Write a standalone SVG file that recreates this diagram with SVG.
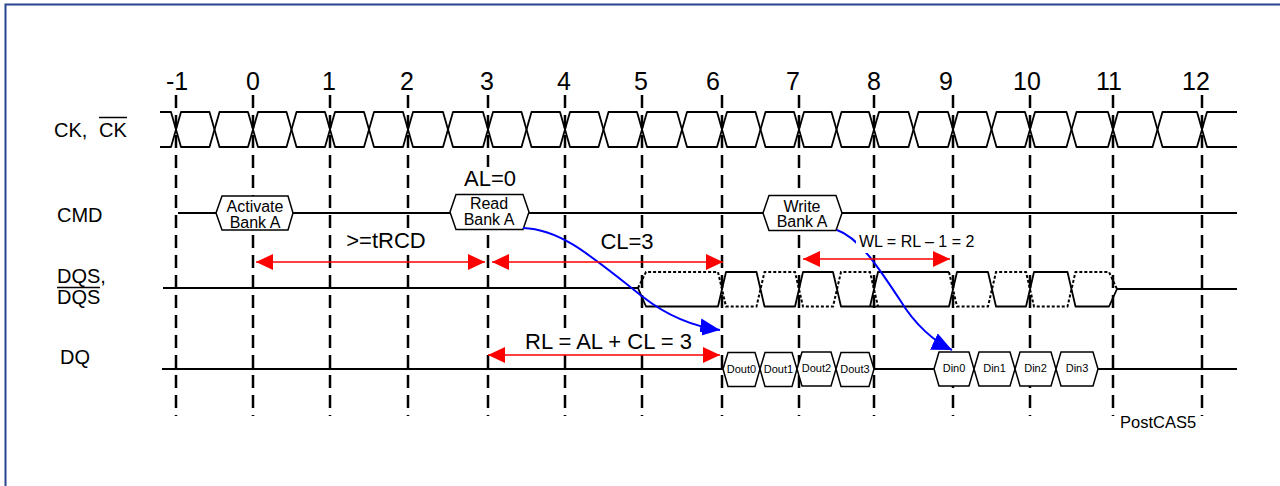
<svg xmlns="http://www.w3.org/2000/svg" width="1280" height="486" viewBox="0 0 1280 486">
<style>
text{font-family:"Liberation Sans",Arial,sans-serif;fill:#000}
.tick{font-size:25px;text-anchor:middle}
.lbl{font-size:20px}
.big{font-size:22px}
.box{font-size:16px;text-anchor:middle}
.dat{font-size:11px;text-anchor:middle}
.grid{stroke:#000;stroke-width:2.5;stroke-dasharray:13 7;fill:none}
.wave{stroke:#000;stroke-width:1.8;fill:none;stroke-linejoin:round}
.dot{stroke:#000;stroke-width:2;fill:none;stroke-dasharray:3 2}
.hex{stroke:#000;stroke-width:1.5;fill:#fff}
.bg{fill:#fff}
.red{stroke:#f00;stroke-width:1.5;fill:none;marker-start:url(#ra);marker-end:url(#ra)}
.blue{stroke:#00f;stroke-width:2;fill:none;marker-end:url(#ba)}
</style>
<defs>
<marker id="ra" markerUnits="userSpaceOnUse" markerWidth="17" markerHeight="16" refX="17" refY="8" orient="auto-start-reverse"><path d="M0,0 L17,8 L0,16 z" fill="#f00"/></marker>
<marker id="ba" markerUnits="userSpaceOnUse" markerWidth="20" markerHeight="18" refX="20" refY="9" orient="auto"><path d="M0,0 L20,9 L0,18 z" fill="#00f"/></marker>
</defs>
<rect x="0" y="0" width="1280" height="486" fill="#fff"/>
<rect x="5.5" y="4.5" width="1290" height="500" fill="none" stroke="#27468f" stroke-width="2"/>
<g id="ticks">
<text class="tick" x="177" y="90">-1</text>
<text class="tick" x="253" y="90">0</text>
<text class="tick" x="329" y="90">1</text>
<text class="tick" x="407" y="90">2</text>
<text class="tick" x="487" y="90">3</text>
<text class="tick" x="564" y="90">4</text>
<text class="tick" x="641" y="90">5</text>
<text class="tick" x="713" y="90">6</text>
<text class="tick" x="793" y="90">7</text>
<text class="tick" x="874" y="90">8</text>
<text class="tick" x="946" y="90">9</text>
<text class="tick" x="1027" y="90">10</text>
<text class="tick" x="1109" y="90">11</text>
<text class="tick" x="1196" y="90">12</text>
</g>
<g id="gridlines">
<path class="grid" d="M176,95V416M253,95V416M330,95V416M408,95V416M488,95V416M565,95V416M642,95V416M722,95V416M799,95V416M874,95V416M953,95V416M1030,95V416M1113,95V416M1202,95V416"/>
</g>
<g id="labels">
<text class="lbl" x="54" y="137">CK,</text>
<text class="lbl" x="99" y="137">CK</text>
<line x1="99" y1="117.5" x2="127" y2="117.5" stroke="#000" stroke-width="1.5"/>
<text class="lbl" x="57" y="222">CMD</text>
<text class="lbl" x="57" y="283">DQS,</text>
<text class="lbl" x="57" y="304">DQS</text>
<line x1="57" y1="287.5" x2="100" y2="287.5" stroke="#000" stroke-width="1.5"/>
<text class="lbl" x="60" y="364">DQ</text>
</g>
<g id="clock">
<path class="wave" d="M160,112 L171,112 181,147 209.5,147 219.5,112 248,112 258,147 286.5,147 296.5,112 325,112 335,147 364,147 374,112 403,112 413,147 443,147 453,112 483,112 493,147 521.5,147 531.5,112 560,112 570,147 598.5,147 608.5,112 637,112 647,147 677,147 687,112 717,112 727,147 755.5,147 765.5,112 794,112 804,147 831.5,147 841.5,112 869,112 879,147 908.5,147 918.5,112 948,112 958,147 986.5,147 996.5,112 1025,112 1035,147 1066.5,147 1076.5,112 1108,112 1118,147 1152.5,147 1162.5,112 1197,112 1207,147 1237,147"/>
<path class="wave" d="M160,147 L171,147 181,112 209.5,112 219.5,147 248,147 258,112 286.5,112 296.5,147 325,147 335,112 364,112 374,147 403,147 413,112 443,112 453,147 483,147 493,112 521.5,112 531.5,147 560,147 570,112 598.5,112 608.5,147 637,147 647,112 677,112 687,147 717,147 727,112 755.5,112 765.5,147 794,147 804,112 831.5,112 841.5,147 869,147 879,112 908.5,112 918.5,147 948,147 958,112 986.5,112 996.5,147 1025,147 1035,112 1066.5,112 1076.5,147 1108,147 1118,112 1152.5,112 1162.5,147 1197,147 1207,112 1237,112"/>
</g>
<g id="cmd">
<path class="wave" d="M178,213 H1237"/>
<g id="activate"><polygon class="hex" points="216,213 222,196 288,196 293,213 288,230 222,230"/><text class="box" x="255" y="212">Activate</text><text class="box" x="255" y="228">Bank A</text></g>
<g id="read"><polygon class="hex" points="450,212 456,194.5 523,194.5 529,212 523,229.5 456,229.5"/><text class="box" x="489" y="209">Read</text><text class="box" x="489" y="225">Bank A</text></g>
<g id="write"><polygon class="hex" points="763,213 769,195.5 836,195.5 842,213 836,230.5 769,230.5"/><text class="box" x="802" y="212">Write</text><text class="box" x="802" y="227">Bank A</text></g>
</g>
<g id="dqs">
<path class="wave" d="M163,288 L638,288 L646,306.5 L718,306.5 L726,272 L756.5,272 L764.5,306.5 L795,306.5 L803,272 L833,272 L841,306.5 L949,306.5 L957,272 L988,272 L996,306.5 L1026,306.5 L1034,272 L1067.5,272 L1075.5,306.5 L1109,306.5 L1117,289 L1237,289"/>
<path class="wave" d="M870,306.5 L878,272 L949,272"/>
<path class="dot" d="M638,288 L646,272 L718,272 L726,306.5 L756.5,306.5 L764.5,272 L795,272 L803,306.5 L833,306.5 L841,272 L870,272 L878,306.5 M949,272 L957,306.5 L988,306.5 L996,272 L1026,272 L1034,306.5 L1067.5,306.5 L1075.5,272 L1109,272 L1117,289"/>
</g>
<g id="dq">
<path class="wave" d="M162,369 H723 M874,369 H934 M1098,369 H1237"/>
<g id="dout0"><polygon class="hex" points="723,369 728,352.5 755,352.5 760,369 755,386.5 728,386.5"/><text class="dat" x="741.5" y="373">Dout0</text></g>
<g id="dout1"><polygon class="hex" points="760,369 765,352.5 792,352.5 797,369 792,386.5 765,386.5"/><text class="dat" x="778.5" y="373">Dout1</text></g>
<g id="dout2"><polygon class="hex" points="797,369 802,352 831,352 836,369 831,386 802,386"/><text class="dat" x="816.5" y="372">Dout2</text></g>
<g id="dout3"><polygon class="hex" points="836,369 841,352.5 869,352.5 874,369 869,386.5 841,386.5"/><text class="dat" x="855" y="373">Dout3</text></g>
<g id="din0"><polygon class="hex" points="934,369 939,352 969,352 974,369 969,386 939,386"/><text class="dat" x="954" y="372">Din0</text></g>
<g id="din1"><polygon class="hex" points="974,369 979,352 1010,352 1015,369 1010,386 979,386"/><text class="dat" x="994.5" y="372">Din1</text></g>
<g id="din2"><polygon class="hex" points="1015,369 1020,352 1051,352 1056,369 1051,386 1020,386"/><text class="dat" x="1035.5" y="372">Din2</text></g>
<g id="din3"><polygon class="hex" points="1056,369 1061,352 1093,352 1098,369 1093,386 1061,386"/><text class="dat" x="1077" y="372">Din3</text></g>
</g>
<g id="connectors">
<path class="blue" d="M523,228 C560,229 590,255 643,297 C665,314 690,326 720,330"/>
<path class="blue" d="M837,230 C860,238 880,270 900,300 C915,325 935,342 952,350"/>
<rect class="bg" x="466" y="167" width="48" height="23"/>
<rect class="bg" x="344" y="231" width="86" height="22"/>
<rect class="bg" x="598" y="232" width="60" height="21"/>
<rect class="bg" x="856" y="233" width="127" height="20"/>
<rect class="bg" x="522" y="332" width="180" height="21"/>
<path class="red" d="M256,262 H485"/>
<path class="red" d="M492,262 H723"/>
<path class="red" d="M803,259 H950"/>
<path class="red" d="M488,355 H720"/>
</g>
<g id="annotations">
<text class="big" x="490" y="186" text-anchor="middle">AL=0</text>
<text class="big" x="386" y="248" text-anchor="middle">&gt;=tRCD</text>
<text class="big" x="627" y="249" text-anchor="middle">CL=3</text>
<text x="859" y="247" font-size="16">WL = RL – 1 = 2</text>
<text class="big" x="525" y="349">RL = AL + CL = 3</text>
<text x="1120" y="428" font-size="16.5">PostCAS5</text>
</g>
</svg>
